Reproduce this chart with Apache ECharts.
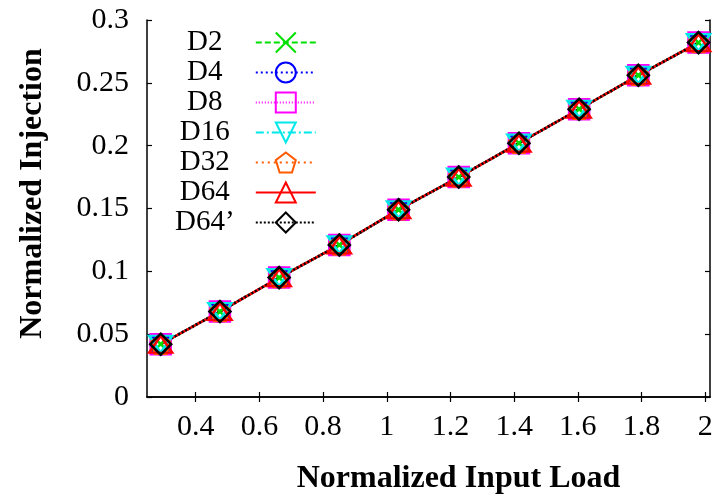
<!DOCTYPE html>
<html>
<head>
<meta charset="utf-8">
<script src="https://cdn.jsdelivr.net/npm/echarts@6/dist/echarts.min.js"></script>
<style>
  html, body { margin: 0; padding: 0; background: #fff; }
  #chart { width: 722px; height: 499px; }
</style>
</head>
<body>
<div id="chart"></div>
<script>
// Normalized input load (x) for each measured point
var inputLoad = [0.29, 0.476, 0.662, 0.851, 1.037, 1.226, 1.415, 1.604, 1.79, 1.979];

// Normalized injection per configuration
var injD2   = [0.042, 0.068, 0.095, 0.121, 0.149, 0.175, 0.202, 0.229, 0.256, 0.282];
var injD4   = [0.042, 0.068, 0.095, 0.121, 0.149, 0.175, 0.202, 0.229, 0.256, 0.282];
var injD8   = [0.042, 0.068, 0.095, 0.121, 0.149, 0.175, 0.202, 0.229, 0.256, 0.282];
var injD16  = [0.042, 0.068, 0.095, 0.121, 0.149, 0.175, 0.202, 0.229, 0.256, 0.282];
var injD32  = [0.042, 0.068, 0.095, 0.121, 0.149, 0.175, 0.202, 0.229, 0.256, 0.282];
var injD64  = [0.042, 0.068, 0.095, 0.121, 0.149, 0.175, 0.202, 0.229, 0.256, 0.282];
var injD64p = [0.042, 0.068, 0.095, 0.121, 0.149, 0.175, 0.202, 0.229, 0.256, 0.282];

var seriesNames = ['D2', 'D4', 'D8', 'D16', 'D32', 'D64', 'D64\u2019'];
var xTicks = [0.4, 0.6, 0.8, 1, 1.2, 1.4, 1.6, 1.8, 2];

var FONT = 'Liberation Serif';

function pairs(xs, ys) {
  return xs.map(function (x, i) { return [x, ys[i]]; });
}

var SYM_CROSS = 'path://M0,0L10,10M10,0L0,10';
var SYM_TRI_DOWN = 'path://M0,0L10,0L5,7.4Z';
var SYM_TRI_UP = 'path://M5,0L10,7.4L0,7.4Z';
var SYM_PENTAGON = 'path://M5,0L9.76,3.45L7.94,9.05L2.06,9.05L0.24,3.45Z';

function makeSeries(name, values, color, dash, symbol, size) {
  return {
    name: name,
    type: 'line',
    data: pairs(inputLoad, values),
    symbol: symbol,
    symbolSize: size,
    showAllSymbol: true,
    lineStyle: { color: color, width: 2.5, type: dash },
    itemStyle: { color: 'rgba(0,0,0,0)', borderColor: color, borderWidth: 2.5 },
    emphasis: { disabled: true },
    animation: false
  };
}

var series = [
  makeSeries(seriesNames[0], injD2,   '#00e000', [6, 3],       SYM_CROSS,    20),
  makeSeries(seriesNames[1], injD4,   '#0000ff', [2, 3],       'circle',     20),
  makeSeries(seriesNames[2], injD8,   '#ff00ff', [1, 2],       'rect',       20),
  makeSeries(seriesNames[3], injD16,  '#00e8e8', [8, 3, 2, 3], SYM_TRI_DOWN, [23, 17]),
  makeSeries(seriesNames[4], injD32,  '#ff5a00', [2, 4],       SYM_PENTAGON, 19),
  makeSeries(seriesNames[5], injD64,  '#ff0000', 'solid',      SYM_TRI_UP,   [23, 17]),
  makeSeries(seriesNames[6], injD64p, '#000000', [2, 2],       'diamond',    21)
];

var axisLineStyle = { show: true, lineStyle: { color: '#000', width: 1.5 } };
var tickStyle = { show: true, inside: true, length: 5, lineStyle: { color: '#000', width: 1.2 } };

var option = {
  backgroundColor: '#fff',
  animation: false,
  grid: { left: 147, right: 12, top: 20, bottom: 102, outerBoundsMode: 'none' },
  legend: {
    orient: 'vertical',
    left: 170,
    top: 23,
    align: 'right',
    itemWidth: 60,
    itemHeight: 25,
    itemGap: 1,
    data: seriesNames,
    selectedMode: false,
    formatter: '{t|{name}}',
    textStyle: {
      fontFamily: FONT,
      fontSize: 29,
      color: '#000',
      rich: { t: { width: 92, align: 'center', fontFamily: FONT, fontSize: 29 } }
    }
  },
  xAxis: [{
    type: 'value',
    min: 0.247,
    max: 2.015,
    name: 'Normalized Input Load',
    nameLocation: 'middle',
    nameGap: 66,
    nameTextStyle: { fontFamily: FONT, fontSize: 32, fontWeight: 'bold', color: '#000', padding: [0, 0, 0, 60] },
    axisLine: axisLineStyle,
    axisTick: Object.assign({ customValues: xTicks }, tickStyle),
    axisLabel: { customValues: xTicks, margin: 15, fontFamily: FONT, fontSize: 30, color: '#000' },
    splitLine: { show: false }
  }, {
    type: 'value',
    position: 'top',
    min: 0.247,
    max: 2.015,
    axisLine: axisLineStyle,
    axisTick: Object.assign({ customValues: xTicks }, tickStyle),
    axisLabel: { show: false },
    splitLine: { show: false }
  }],
  yAxis: [{
    type: 'value',
    min: 0,
    max: 0.3,
    interval: 0.05,
    name: 'Normalized Injection',
    nameLocation: 'middle',
    nameRotate: 90,
    nameGap: 98,
    nameTextStyle: { fontFamily: FONT, fontSize: 32, fontWeight: 'bold', color: '#000', padding: [0, 0, 0, 30] },
    axisLine: axisLineStyle,
    axisTick: tickStyle,
    axisLabel: { margin: 18, fontFamily: FONT, fontSize: 30, color: '#000' },
    splitLine: { show: false }
  }, {
    type: 'value',
    position: 'right',
    min: 0,
    max: 0.3,
    interval: 0.05,
    axisLine: axisLineStyle,
    axisTick: tickStyle,
    axisLabel: { show: false },
    splitLine: { show: false }
  }],
  series: series
};

var chart = echarts.init(document.getElementById('chart'), null, { renderer: 'canvas' });
chart.setOption(option);
</script>
</body>
</html>
